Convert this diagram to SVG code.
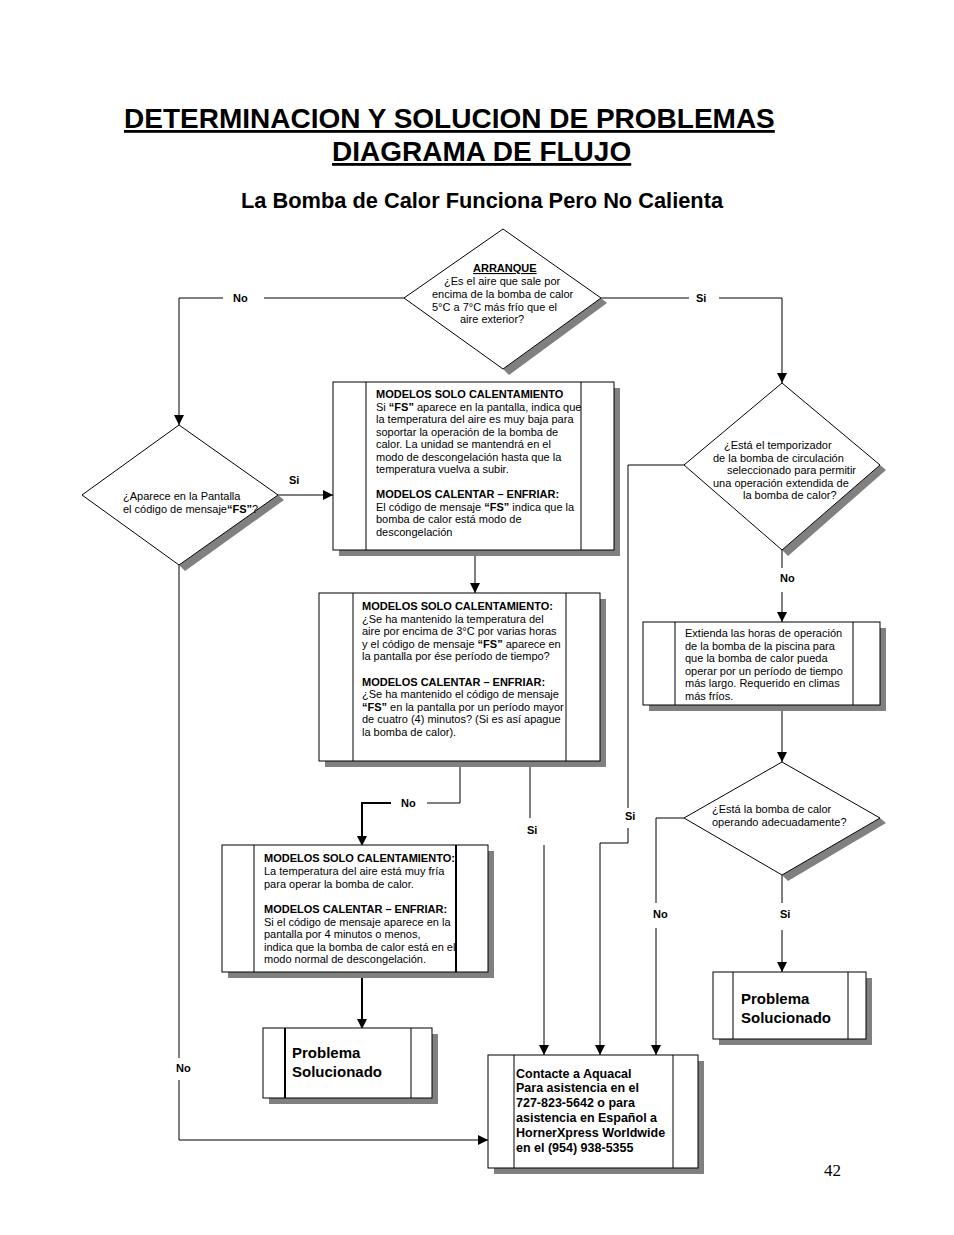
<svg xmlns="http://www.w3.org/2000/svg" width="954" height="1235" viewBox="0 0 954 1235">
<defs>
<marker id="ah" markerUnits="userSpaceOnUse" markerWidth="10" markerHeight="10" refX="10" refY="5" orient="auto">
<path d="M0,0 L10,5 L0,10 z" fill="#000"/>
</marker>
</defs>
<style>
.bg{fill:#fff}
.n{fill:#fff;stroke:#000;stroke-width:1}
.sh{fill:#808080;stroke:none}
.il{stroke:#000;stroke-width:1}
.th{stroke:#000;stroke-width:2}
.c{fill:none;stroke:#000;stroke-width:1}
.ct{fill:none;stroke:#000;stroke-width:2}
.t{font-family:"Liberation Sans",Arial,sans-serif;font-size:11px;fill:#000}
.b{font-weight:bold}
.lb{font-family:"Liberation Sans",Arial,sans-serif;font-size:11px;font-weight:bold;fill:#000}
.ps{font-family:"Liberation Sans",Arial,sans-serif;font-size:15px;font-weight:bold;fill:#000}
.ca{font-family:"Liberation Sans",Arial,sans-serif;font-size:12.5px;font-weight:bold;fill:#000}
.ti{font-family:"Liberation Sans",Arial,sans-serif;font-size:28px;font-weight:bold;fill:#000;text-decoration:underline}
.st{font-family:"Liberation Sans",Arial,sans-serif;font-size:21.8px;font-weight:bold;fill:#000}
.pg{font-family:"Liberation Serif","Times New Roman",serif;font-size:17px;fill:#000}
</style>
<rect class="bg" x="0" y="0" width="954" height="1235"/>

<g id="title">
<text class="ti" x="124" y="128">DETERMINACION Y SOLUCION DE PROBLEMAS</text>
<text class="ti" x="332" y="161">DIAGRAMA DE FLUJO</text>
<text class="st" x="241" y="208">La Bomba de Calor Funciona Pero No Calienta</text>
</g>

<g id="connectors">
<polyline class="c" points="404,298 264,298"/>
<polyline class="c" points="223,298 179,298 179,425" marker-end="url(#ah)"/>
<text class="lb" x="233" y="302">No</text>
<polyline class="c" points="601,298 689,298"/>
<polyline class="c" points="719,298 782,298 782,383" marker-end="url(#ah)"/>
<text class="lb" x="696" y="302">Si</text>
<line class="c" x1="278" y1="495" x2="333" y2="495" marker-end="url(#ah)"/>
<text class="lb" x="289" y="484">Si</text>
<line class="c" x1="475" y1="550" x2="475" y2="593" marker-end="url(#ah)"/>
<polyline class="c" points="460,761 460,803 427,803"/>
<polyline class="ct" points="391,803 362,803 362,838"/>
<path d="M357,836 L362,846 L367,836 z" fill="#000"/>
<text class="lb" x="401" y="807">No</text>
<line class="c" x1="530" y1="761" x2="530" y2="818"/>
<text class="lb" x="527" y="834">Si</text>
<line class="c" x1="544" y1="845" x2="544" y2="1055" marker-end="url(#ah)"/>
<line class="ct" x1="362" y1="972" x2="362" y2="1021"/>
<path d="M357,1019 L362,1029 L367,1019 z" fill="#000"/>
<line class="c" x1="179" y1="565" x2="179" y2="1058"/>
<text class="lb" x="176" y="1072">No</text>
<polyline class="c" points="179,1080 179,1140 488,1140" marker-end="url(#ah)"/>
<polyline class="c" points="684,465 628,465 628,808"/>
<text class="lb" x="625" y="820">Si</text>
<polyline class="c" points="628,828 628,843 600,843 600,1055" marker-end="url(#ah)"/>
<line class="c" x1="782" y1="550" x2="782" y2="568"/>
<text class="lb" x="780" y="582">No</text>
<line class="c" x1="782" y1="592" x2="782" y2="622" marker-end="url(#ah)"/>
<line class="c" x1="782" y1="705" x2="782" y2="762" marker-end="url(#ah)"/>
<polyline class="c" points="684,818 656,818 656,903"/>
<text class="lb" x="653" y="918">No</text>
<line class="c" x1="656" y1="928" x2="656" y2="1055" marker-end="url(#ah)"/>
<line class="c" x1="782" y1="875" x2="782" y2="903"/>
<text class="lb" x="780" y="918">Si</text>
<line class="c" x1="782" y1="930" x2="782" y2="972" marker-end="url(#ah)"/>
</g>

<g id="d_arranque">
<polygon class="sh" points="601,298 607,303 509,375 503,369"/>
<polygon class="n" points="503,229 601,298 503,369 404,298"/>
<text class="t b" x="473" y="272" style="text-decoration:underline">ARRANQUE</text>
<text class="t" x="444" y="285">¿Es el aire que sale por</text>
<text class="t" x="432" y="298">encima de la bomba de calor</text>
<text class="t" x="432" y="311">5°C a 7°C más frío que el</text>
<text class="t" x="460" y="323">aire exterior?</text>
</g>

<g id="d_fs">
<polygon class="sh" points="278,495 284,500 185,571 179,565"/>
<polygon class="n" points="179,425 278,495 179,565 82,495"/>
<text class="t" x="123" y="500">¿Aparece en la Pantalla</text>
<text class="t" x="123" y="513">el código de mensaje<tspan class="b">“FS”</tspan>?</text>
</g>

<g id="box1">
<rect class="sh" x="339" y="388" width="281" height="168"/>
<rect class="n" x="333" y="382" width="281" height="168"/>
<line class="il" x1="366" y1="382" x2="366" y2="550"/>
<line class="il" x1="581" y1="382" x2="581" y2="550"/>
<text class="t b" x="376" y="398">MODELOS SOLO CALENTAMIENTO</text>
<text class="t" x="376" y="410.5">Si <tspan class="b">“FS”</tspan> aparece en la pantalla, indica que</text>
<text class="t" x="376" y="423">la temperatura del aire es muy baja para</text>
<text class="t" x="376" y="435.5">soportar la operación de la bomba de</text>
<text class="t" x="376" y="448">calor.  La unidad se mantendrá en el</text>
<text class="t" x="376" y="460.5">modo de descongelación hasta que la</text>
<text class="t" x="376" y="473">temperatura vuelva a subir.</text>
<text class="t b" x="376" y="498">MODELOS CALENTAR – ENFRIAR:</text>
<text class="t" x="376" y="510.5">El código de mensaje <tspan class="b">“FS”</tspan> indica que la</text>
<text class="t" x="376" y="523">bomba de calor está modo de</text>
<text class="t" x="376" y="535.5">descongelación</text>
</g>

<g id="box2">
<rect class="sh" x="325" y="599" width="281" height="168"/>
<rect class="n" x="319" y="593" width="281" height="168"/>
<line class="il" x1="353" y1="593" x2="353" y2="761"/>
<line class="il" x1="566" y1="593" x2="566" y2="761"/>
<text class="t b" x="362" y="610">MODELOS SOLO CALENTAMIENTO:</text>
<text class="t" x="362" y="622.6">¿Se ha mantenido la temperatura del</text>
<text class="t" x="362" y="635.2">aire por encima de 3°C por varias horas</text>
<text class="t" x="362" y="647.8">y el código de mensaje <tspan class="b">“FS”</tspan> aparece en</text>
<text class="t" x="362" y="660.4">la pantalla por ése período de tiempo?</text>
<text class="t b" x="362" y="685.6">MODELOS CALENTAR – ENFRIAR:</text>
<text class="t" x="362" y="698.2">¿Se ha mantenido el código de mensaje</text>
<text class="t" x="362" y="710.8"><tspan class="b">“FS”</tspan> en la pantalla por un período mayor</text>
<text class="t" x="362" y="723.4">de cuatro (4) minutos? (Si es así apague</text>
<text class="t" x="362" y="736">la bomba de calor).</text>
</g>

<g id="box3">
<rect class="sh" x="228" y="851" width="266" height="127"/>
<rect class="n" x="222" y="845" width="266" height="127"/>
<line class="il" x1="254" y1="845" x2="254" y2="972"/>
<line class="th" x1="456" y1="845" x2="456" y2="972"/>
<text class="t b" x="264" y="862">MODELOS SOLO CALENTAMIENTO:</text>
<text class="t" x="264" y="875">La temperatura del aire está muy fría</text>
<text class="t" x="264" y="888">para operar la bomba de calor.</text>
<text class="t b" x="264" y="913">MODELOS CALENTAR – ENFRIAR:</text>
<text class="t" x="264" y="926">Si el código de mensaje aparece en la</text>
<text class="t" x="264" y="938">pantalla por 4 minutos o menos,</text>
<text class="t" x="264" y="951">indica que la bomba de calor está en el</text>
<text class="t" x="264" y="963">modo normal de descongelación.</text>
</g>

<g id="problem_left">
<rect class="sh" x="269" y="1034" width="169" height="70"/>
<rect class="n" x="263" y="1028" width="169" height="70"/>
<line class="th" x1="285" y1="1028" x2="285" y2="1098"/>
<line class="il" x1="411" y1="1028" x2="411" y2="1098"/>
<text class="ps" x="292" y="1058">Problema</text>
<text class="ps" x="292" y="1077">Solucionado</text>
</g>

<g id="d_temporizador">
<polygon class="sh" points="880,465 886,470 788,556 782,550"/>
<polygon class="n" points="782,383 880,465 782,550 684,465"/>
<text class="t" x="724" y="449">¿Está el temporizador</text>
<text class="t" x="713" y="461.5">de la bomba de circulación</text>
<text class="t" x="727" y="474">seleccionado para permitir</text>
<text class="t" x="713" y="486.5">una operación extendida de</text>
<text class="t" x="743" y="499">la bomba de calor?</text>
</g>

<g id="box_extienda">
<rect class="sh" x="649" y="628" width="237" height="83"/>
<rect class="n" x="643" y="622" width="237" height="83"/>
<line class="il" x1="675" y1="622" x2="675" y2="705"/>
<line class="il" x1="853" y1="622" x2="853" y2="705"/>
<text class="t" x="685" y="637">Extienda las horas de operación</text>
<text class="t" x="685" y="649.5">de la bomba de la piscina para</text>
<text class="t" x="685" y="662">que la bomba de calor pueda</text>
<text class="t" x="685" y="674.5">operar por un período de tiempo</text>
<text class="t" x="685" y="687">más largo. Requerido en climas</text>
<text class="t" x="685" y="699.5">más fríos.</text>
</g>

<g id="d_operando">
<polygon class="sh" points="880,818 886,823 788,881 782,875"/>
<polygon class="n" points="782,762 880,818 782,875 684,818"/>
<text class="t" x="712" y="813">¿Está la bomba de calor</text>
<text class="t" x="712" y="826">operando  adecuadamente?</text>
</g>

<g id="problem_right">
<rect class="sh" x="719" y="978" width="153" height="67"/>
<rect class="n" x="713" y="972" width="153" height="67"/>
<line class="il" x1="733" y1="972" x2="733" y2="1039"/>
<line class="il" x1="848" y1="972" x2="848" y2="1039"/>
<text class="ps" x="741" y="1004">Problema</text>
<text class="ps" x="741" y="1023">Solucionado</text>
</g>

<g id="box_contacte">
<rect class="sh" x="494" y="1061" width="210" height="113"/>
<rect class="n" x="488" y="1055" width="210" height="113"/>
<line class="il" x1="514" y1="1055" x2="514" y2="1168"/>
<line class="il" x1="673" y1="1055" x2="673" y2="1168"/>
<text class="ca" x="516" y="1077.5">Contacte a Aquacal</text>
<text class="ca" x="516" y="1092">Para asistencia en el</text>
<text class="ca" x="516" y="1107">727-823-5642 o para</text>
<text class="ca" x="516" y="1122">asistencia en Español a</text>
<text class="ca" x="516" y="1137">HornerXpress Worldwide</text>
<text class="ca" x="516" y="1151.5">en el (954) 938-5355</text>
</g>

<text class="pg" x="824" y="1176">42</text>
</svg>
